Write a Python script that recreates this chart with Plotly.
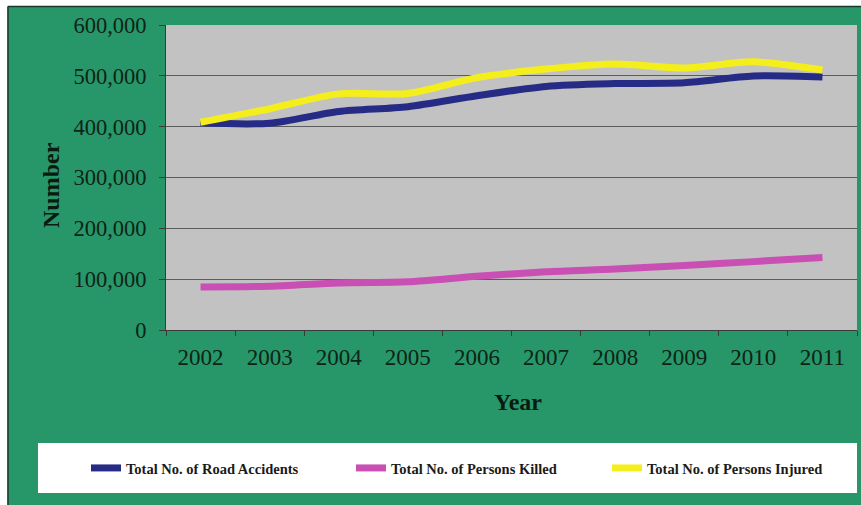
import plotly.graph_objects as go

# ---- data ----
years = ["2002", "2003", "2004", "2005", "2006", "2007", "2008", "2009", "2010", "2011"]
road_accidents = [407497, 406726, 429910, 439255, 460920, 479216, 484704, 486384, 499628, 497686]
persons_killed = [84674, 85998, 92618, 94968, 105749, 114444, 119860, 126896, 134513, 142485]
persons_injured = [408711, 435122, 464521, 465282, 496481, 513340, 523193, 515458, 527512, 511394]
series_names = ["Total No. of Road Accidents", "Total No. of Persons Killed", "Total No. of Persons Injured"]
y_ticks = [0, 100000, 200000, 300000, 400000, 500000, 600000]

# ---- layout geometry (pixels) ----
W, H = 861, 505
L, R, T, B = 166, 857, 25, 330
PW, PH = R - L, B - T

def px(x):
    return (x - L) / PW

def py(y):
    return (B - y) / PH

GREEN = "#27976A"
TXT = "#0d2416"
BORDER = "#173a28"
serif = "Liberation Serif"

fig = go.Figure()
colors = ["#262C85", "#C94FB4", "#F4EE1C"]
legend_ids = ["legend", "legend2", "legend3"]
for name, vals, c, lg in zip(series_names, [road_accidents, persons_killed, persons_injured], colors, legend_ids):
    fig.add_trace(go.Scatter(
        x=years, y=vals, name=name, mode="lines", legend=lg,
        line=dict(color=c, width=7, shape="spline", smoothing=0.8),
    ))

legend_font = dict(family=serif, size=14.5, color="#1a1a1a", weight="bold")
legend_x_px = [86, 351, 607]
legend_cfg = {}
for lg, lx in zip(legend_ids, legend_x_px):
    legend_cfg[lg] = dict(
        orientation="h", x=px(lx), xanchor="left", y=py(468), yanchor="middle",
        bgcolor="rgba(0,0,0,0)", font=legend_font,
    )

fig.update_layout(
    width=W, height=H,
    margin=dict(l=L, r=W - R, t=T, b=H - B),
    paper_bgcolor=GREEN,
    plot_bgcolor="#C2C2C2",
    showlegend=True,
    **legend_cfg,
    xaxis=dict(
        type="category", range=[-0.5, 9.5], tickson="boundaries",
        ticks="outside", ticklen=5, tickcolor="#3a3a3a",
        showline=True, linecolor="#3a3a3a", linewidth=1,
        showgrid=False, ticklabelstandoff=6,
        tickfont=dict(family=serif, size=23, color=TXT),
    ),
    yaxis=dict(
        range=[0, 600000], tickvals=y_ticks, tickformat=",",
        ticks="outside", ticklen=6, tickcolor="#3a3a3a",
        showline=True, linecolor="#3a3a3a", linewidth=1,
        showgrid=True, gridcolor="#5c5c5c", gridwidth=1,
        zeroline=False, ticklabelstandoff=8,
        tickfont=dict(family=serif, size=22.5, color=TXT),
    ),
    shapes=[
        # white margins at left and top of the frame
        dict(type="rect", xref="paper", yref="paper", layer="below",
             x0=px(-5), x1=px(7.5), y0=py(H + 5), y1=py(-5),
             fillcolor="white", line=dict(width=0)),
        dict(type="rect", xref="paper", yref="paper", layer="below",
             x0=px(-5), x1=px(W + 5), y0=py(6), y1=py(-5),
             fillcolor="white", line=dict(width=0)),
        # dark frame lines
        dict(type="line", xref="paper", yref="paper", layer="below",
             x0=px(8), x1=px(8), y0=py(H + 5), y1=py(6.5),
             line=dict(color=BORDER, width=1.5)),
        dict(type="line", xref="paper", yref="paper", layer="below",
             x0=px(8), x1=px(W + 5), y0=py(6.5), y1=py(6.5),
             line=dict(color=BORDER, width=1.5)),
        # legend box
        dict(type="rect", xref="paper", yref="paper", layer="below",
             x0=px(38), x1=px(857), y0=py(493), y1=py(443),
             fillcolor="white", line=dict(width=0)),
    ],
    annotations=[
        dict(text="<b>Number</b>", xref="paper", yref="paper", x=px(51), y=py(185),
             showarrow=False, textangle=-90, xanchor="center", yanchor="middle",
             font=dict(family=serif, size=24, color="#0a1a10")),
        dict(text="<b>Year</b>", xref="paper", yref="paper", x=px(518), y=py(402),
             showarrow=False, xanchor="center", yanchor="middle",
             font=dict(family=serif, size=24, color="#0a1a10")),
    ],
)

fig.write_html("out.html")
